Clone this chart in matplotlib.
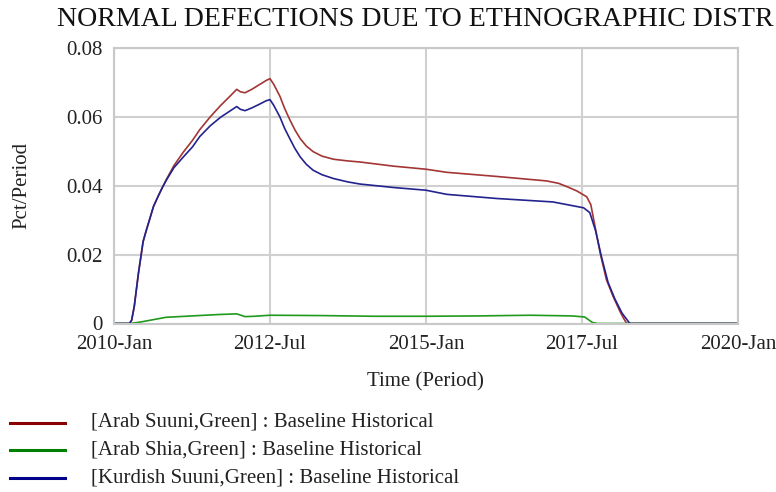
import matplotlib
matplotlib.use("Agg")
import matplotlib.pyplot as plt
from matplotlib.lines import Line2D

plt.rcParams['font.family'] = ['Liberation Serif', 'DejaVu Serif']

# time in months since 2010-Jan
red_t = [0, 3, 3.4, 3.9, 4.7, 5.6, 6.2, 7.0, 7.6, 8.5, 9.3, 10.1, 11.5, 13.3, 15.1, 16.5, 18.5, 20.5,
         22.5, 23.6, 24.3, 25.2, 26.5, 28, 29.3, 30, 30.7, 31.9, 32.8, 33.8, 34.8, 35.8, 37, 38.3,
         40, 42.2, 45, 47.3, 53.7, 60, 64, 73.6, 83.2, 85.5, 87, 89, 90.9, 91.7, 92.4, 93.5, 94.7,
         96, 97.3, 98, 98.6, 120]
red_v = [0, 0, 0.001, 0.005, 0.0146, 0.0238, 0.027, 0.031, 0.034, 0.037, 0.0395, 0.0419, 0.0458,
         0.0497, 0.0532, 0.0563, 0.0600, 0.0633, 0.0663, 0.0680, 0.0673, 0.0670, 0.0680, 0.0694,
         0.0706, 0.0711, 0.0695, 0.0660, 0.0625, 0.0592, 0.0562, 0.0537, 0.0515, 0.0499, 0.0486,
         0.0477, 0.0472, 0.0469, 0.0457, 0.0448, 0.0439, 0.0427, 0.0414, 0.0407, 0.0398, 0.0385,
         0.0368, 0.0345, 0.029, 0.0204, 0.0127, 0.0078, 0.0035, 0.0015, 0, 0]

blue_t = [0, 3, 3.4, 3.9, 4.7, 5.6, 6.2, 7.0, 7.6, 8.5, 9.3, 10.1, 11.5, 13.3, 15.1, 16.5, 18.5, 20.5,
          22.5, 23.6, 24.3, 25.2, 26.5, 28, 29.3, 30, 30.7, 31.9, 32.8, 33.8, 34.8, 35.8, 37, 38.3,
          40, 42.2, 45, 47.3, 53.7, 60, 64, 73.6, 84.4, 90.3, 91.5, 92.6, 93.8, 95, 96.3, 97.7,
          98.6, 99.2, 120]
blue_v = [0, 0, 0.001, 0.005, 0.0146, 0.0238, 0.027, 0.031, 0.034, 0.037, 0.0395, 0.0417, 0.0452,
          0.0483, 0.0513, 0.0543, 0.0574, 0.0599, 0.0619, 0.0630, 0.0622, 0.0618, 0.0626, 0.0637,
          0.0647, 0.0650, 0.0634, 0.0600, 0.0567, 0.0537, 0.0508, 0.0484, 0.0462, 0.0445, 0.0432,
          0.0421, 0.0411, 0.0405, 0.0395, 0.0387, 0.0375, 0.0363, 0.0353, 0.0336, 0.0322, 0.027,
          0.019, 0.012, 0.0072, 0.003, 0.0012, 0, 0]

green_t = [0, 3, 5, 10, 15, 20, 23.6, 25.2, 27, 30, 40, 50, 60, 70, 80, 88, 90.5, 92, 93, 120]
green_v = [0, 0, 0.0004, 0.0018, 0.0022, 0.0026, 0.0028, 0.002, 0.0021, 0.0024, 0.0023, 0.0021, 0.0021,
           0.0022, 0.0024, 0.0022, 0.0019, 0.0003, 0, 0]

tick_months = [0, 30, 60, 90, 120]
tick_labels = ["2010-Jan", "2012-Jul", "2015-Jan", "2017-Jul", "2020-Jan"]
y_ticks = [0, 0.02, 0.04, 0.06, 0.08]
y_labels = ["0", "0.02", "0.04", "0.06", "0.08"]

names = ["[Arab Suuni,Green] : Baseline Historical",
         "[Arab Shia,Green] : Baseline Historical",
         "[Kurdish Suuni,Green] : Baseline Historical"]
colors = ["#a33535", "#1f9a1f", "#23238f"]
legend_colors = ["#8b0000", "#008000", "#00008b"]

# the title is cut at the right edge in the original picture
title = "NORMAL DEFECTIONS DUE TO ETHNOGRAPHIC DISTR"

W, H = 776, 492
fig = plt.figure(figsize=(W / 100, H / 100), dpi=100)
ax = fig.add_axes([114 / W, 1 - 323.5 / H, (738 - 114) / W, (323.5 - 48) / H])

ax.plot(red_t, red_v, color=colors[0], lw=1.2)
ax.plot(green_t, green_v, color=colors[1], lw=1.2)
ax.plot(blue_t, blue_v, color=colors[2], lw=1.2)

ax.set_xlim(0, 120)
ax.set_ylim(0, 0.08)
ax.set_xticks(tick_months)
ax.set_xticklabels(tick_labels)
ax.set_yticks(y_ticks)
ax.set_yticklabels(y_labels)
ax.tick_params(length=0, labelsize=15, colors="#222222", pad=8)
ax.grid(True, color="#d0d0d0", lw=1.5)
for s in ax.spines.values():
    s.set_color("#c8c8c8")
    s.set_linewidth(1.5)

fig.text(425 / W, 1 - 382 / H, "Time (Period)", fontsize=15, ha="center", va="center", color="#222222")
fig.text(22 / W, 1 - 185 / H, "Pct/Period", fontsize=15, ha="center", va="center",
         rotation=90, color="#222222")

t = fig.text(57 / W, 1 - 19 / H, title, fontsize=20, va="center", ha="left", color="#111111")
# fit the title so it runs from x=57 to the right edge
r = fig.canvas.get_renderer()
w = t.get_window_extent(renderer=r).width
t.set_fontsize(20 * 717 / w)

# legend drawn by hand below the plot
for i, (name, c) in enumerate(zip(names, legend_colors)):
    y = 1 - (422.5 + 27.7 * i) / H
    fig.add_artist(Line2D([10 / W, 65 / W], [y, y], color=c, lw=2.2))
    fig.text(91 / W, y, name, fontsize=15, va="center", ha="left", color="#222222")

fig.savefig("out.png", dpi=100)
